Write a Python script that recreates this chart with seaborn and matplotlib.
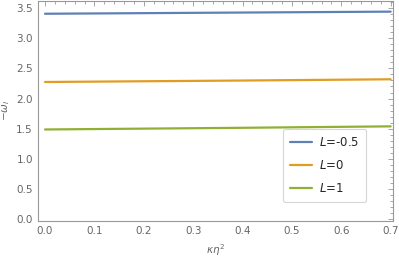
import matplotlib
matplotlib.use("Agg")
import matplotlib.pyplot as plt
import pandas as pd
import seaborn as sns
from matplotlib.ticker import MultipleLocator

# values
kappa_eta2 = [0.0, 0.1, 0.2, 0.3, 0.4, 0.5, 0.6, 0.7]
omega_L_m05 = [3.41, 3.415, 3.42, 3.425, 3.43, 3.435, 3.44, 3.445]
omega_L_0 = [2.275, 2.281, 2.287, 2.293, 2.299, 2.306, 2.313, 2.32]
omega_L_1 = [1.485, 1.492, 1.499, 1.506, 1.513, 1.521, 1.529, 1.537]
labels = ["$L$=-0.5", "$L$=0", "$L$=1"]
colors = ["#5E81B5", "#E19C24", "#8FB032"]

records = []
for lab, vals in zip(labels, [omega_L_m05, omega_L_0, omega_L_1]):
    for x, v in zip(kappa_eta2, vals):
        records.append({"x": x, "y": v, "series": lab})
df = pd.DataFrame.from_records(records)

sns.set_style("white")
plt.rcParams["font.family"] = ["DejaVu Sans"]
plt.rcParams["mathtext.fontset"] = "dejavusans"

fig = plt.figure(figsize=(3.99, 2.60), dpi=100)
ax = fig.add_axes([0.0945, 0.151, 0.8895, 0.847])

sns.lineplot(data=df, x="x", y="y", hue="series", palette=colors, linewidth=1.6, ax=ax)

ax.set_xlim(-0.0148, 0.704)
ax.set_ylim(-0.033, 3.63)
ax.xaxis.set_major_locator(MultipleLocator(0.1))
ax.xaxis.set_minor_locator(MultipleLocator(0.02))
ax.yaxis.set_major_locator(MultipleLocator(0.5))
ax.yaxis.set_minor_locator(MultipleLocator(0.1))
ax.tick_params(which="both", direction="in", top=True, right=True, color="#999999",
               labelsize=7.5, labelcolor="#666666", width=0.6)
ax.tick_params(which="major", length=3.5)
ax.tick_params(which="minor", length=2)
for s in ax.spines.values():
    s.set_color("#999999")
    s.set_linewidth(0.8)

ax.set_xlabel(r"$\kappa\eta^2$", fontsize=7.5, color="#666666", labelpad=5)
ax.set_ylabel(r"$-\omega_I$", fontsize=7.5, color="#666666", labelpad=3)

leg = ax.legend(loc="lower right", bbox_to_anchor=(0.942, 0.058), fontsize=8.5,
                frameon=True, fancybox=True, handlelength=1.8, handletextpad=0.6,
                labelspacing=0.85, borderpad=0.6, edgecolor="#cccccc")
leg.get_frame().set_linewidth(0.8)

fig.savefig("out.png", dpi=100)
